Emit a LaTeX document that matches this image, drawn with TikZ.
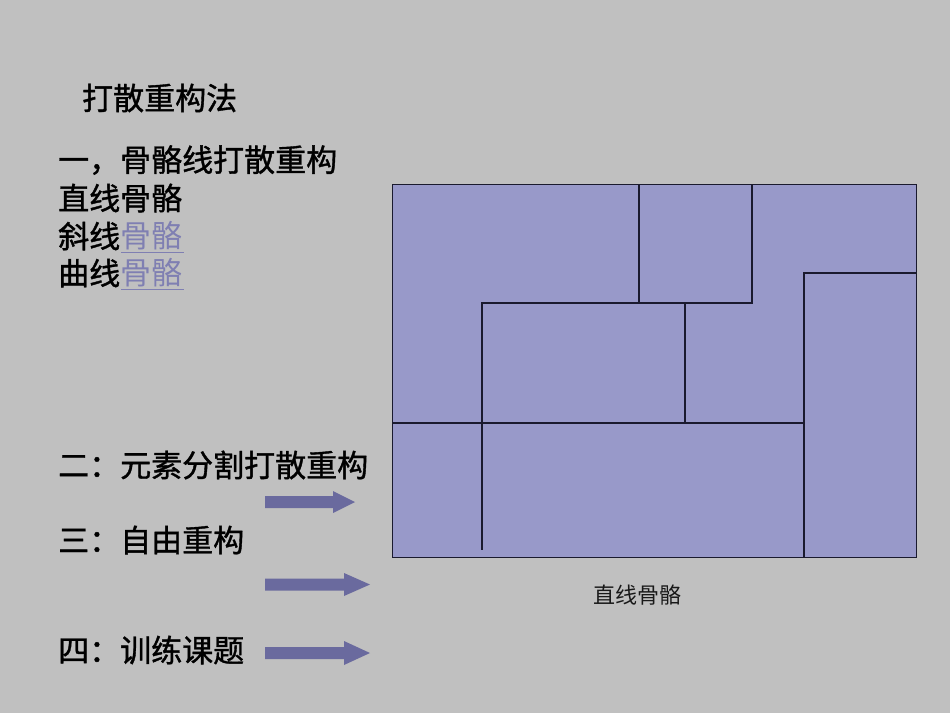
\documentclass[tikz,border=0pt]{standalone}
\usepackage{fontspec}
\newfontfamily\cjk{Noto Sans CJK SC}
\newfontfamily\cjkb[FakeBold=1.2]{Noto Sans CJK SC}
\definecolor{bg}{HTML}{C0C0C0}
\definecolor{fillc}{HTML}{9899C9}
\definecolor{arrowc}{HTML}{6A6A9E}
\definecolor{linkc}{HTML}{7F7FB2}
\definecolor{linec}{HTML}{1A1A2E}
\tikzset{
  txt/.style={anchor=west, inner sep=0pt, font=\cjkb\fontsize{31}{31}\selectfont, text=black},
  captxt/.style={inner sep=0pt, font=\cjk\fontsize{22}{22}\selectfont, text=black!90},
  part/.style={draw=linec, line width=1.2pt},
  fatarrow/.style={fill=arrowc, draw=none}
}
\begin{document}
\begin{tikzpicture}[x=1pt,y=-1pt]
\fill[bg] (0,0) rectangle (950,713);
\useasboundingbox (0,0) rectangle (950,713);
% texts
\node[txt] (t0) at (82,98) {打散重构法};
\node[txt] (t1) at (58,160) {一，骨骼线打散重构};
\node[txt] (t2) at (58,198) {直线骨骼};
\node[txt] (t3) at (58,236) {斜线{\cjk\color{linkc}骨骼}};
\node[txt] (t4) at (58,273) {曲线{\cjk\color{linkc}骨骼}};
\draw[linkc, line width=1pt] (121,252) -- (184,252);
\draw[linkc, line width=1pt] (121,289) -- (184,289);
\node[txt] (t5) at (58,465) {二：元素分割打散重构};
\node[txt] (t6) at (58,540) {三：自由重构};
\node[txt] (t7) at (58,650) {四：训练课题};
% arrows
\fill[fatarrow] (265,496) -- (333,496) -- (333,491) -- (355,502) -- (333,513) -- (333,508) -- (265,508) -- cycle;
\fill[fatarrow] (265,578.5) -- (344,578.5) -- (344,573) -- (370,584.5) -- (344,596) -- (344,590.5) -- (265,590.5) -- cycle;
\fill[fatarrow] (265,647) -- (344,647) -- (344,641) -- (370,653) -- (344,665) -- (344,659) -- (265,659) -- cycle;
% diagram
\node[draw=linec, line width=1.2pt, fill=fillc, anchor=north west, minimum width=524pt, minimum height=373pt, inner sep=0pt] (box) at (392,184) {};
\coordinate (a1) at (639,184); \coordinate (a2) at (639,303);
\coordinate (b1) at (752,184); \coordinate (b2) at (752,303);
\coordinate (c1) at (482,303); \coordinate (c2) at (482,550);
\coordinate (d1) at (685,303); \coordinate (d2) at (685,423);
\coordinate (e1) at (392,423); \coordinate (e2) at (804,423);
\coordinate (f1) at (804,273); \coordinate (f2) at (804,557);
\coordinate (g2) at (916,273);
\draw[part] (a1) -- (a2);
\draw[part] (b1) -- (b2) -- (c1) -- (c2);
\draw[part] (d1) -- (d2);
\draw[part] (e1) -- (e2);
\draw[part] (f2) -- (f1) -- (g2);
\node[captxt] (cap) at (637,595) {直线骨骼};
\end{tikzpicture}
\end{document}
